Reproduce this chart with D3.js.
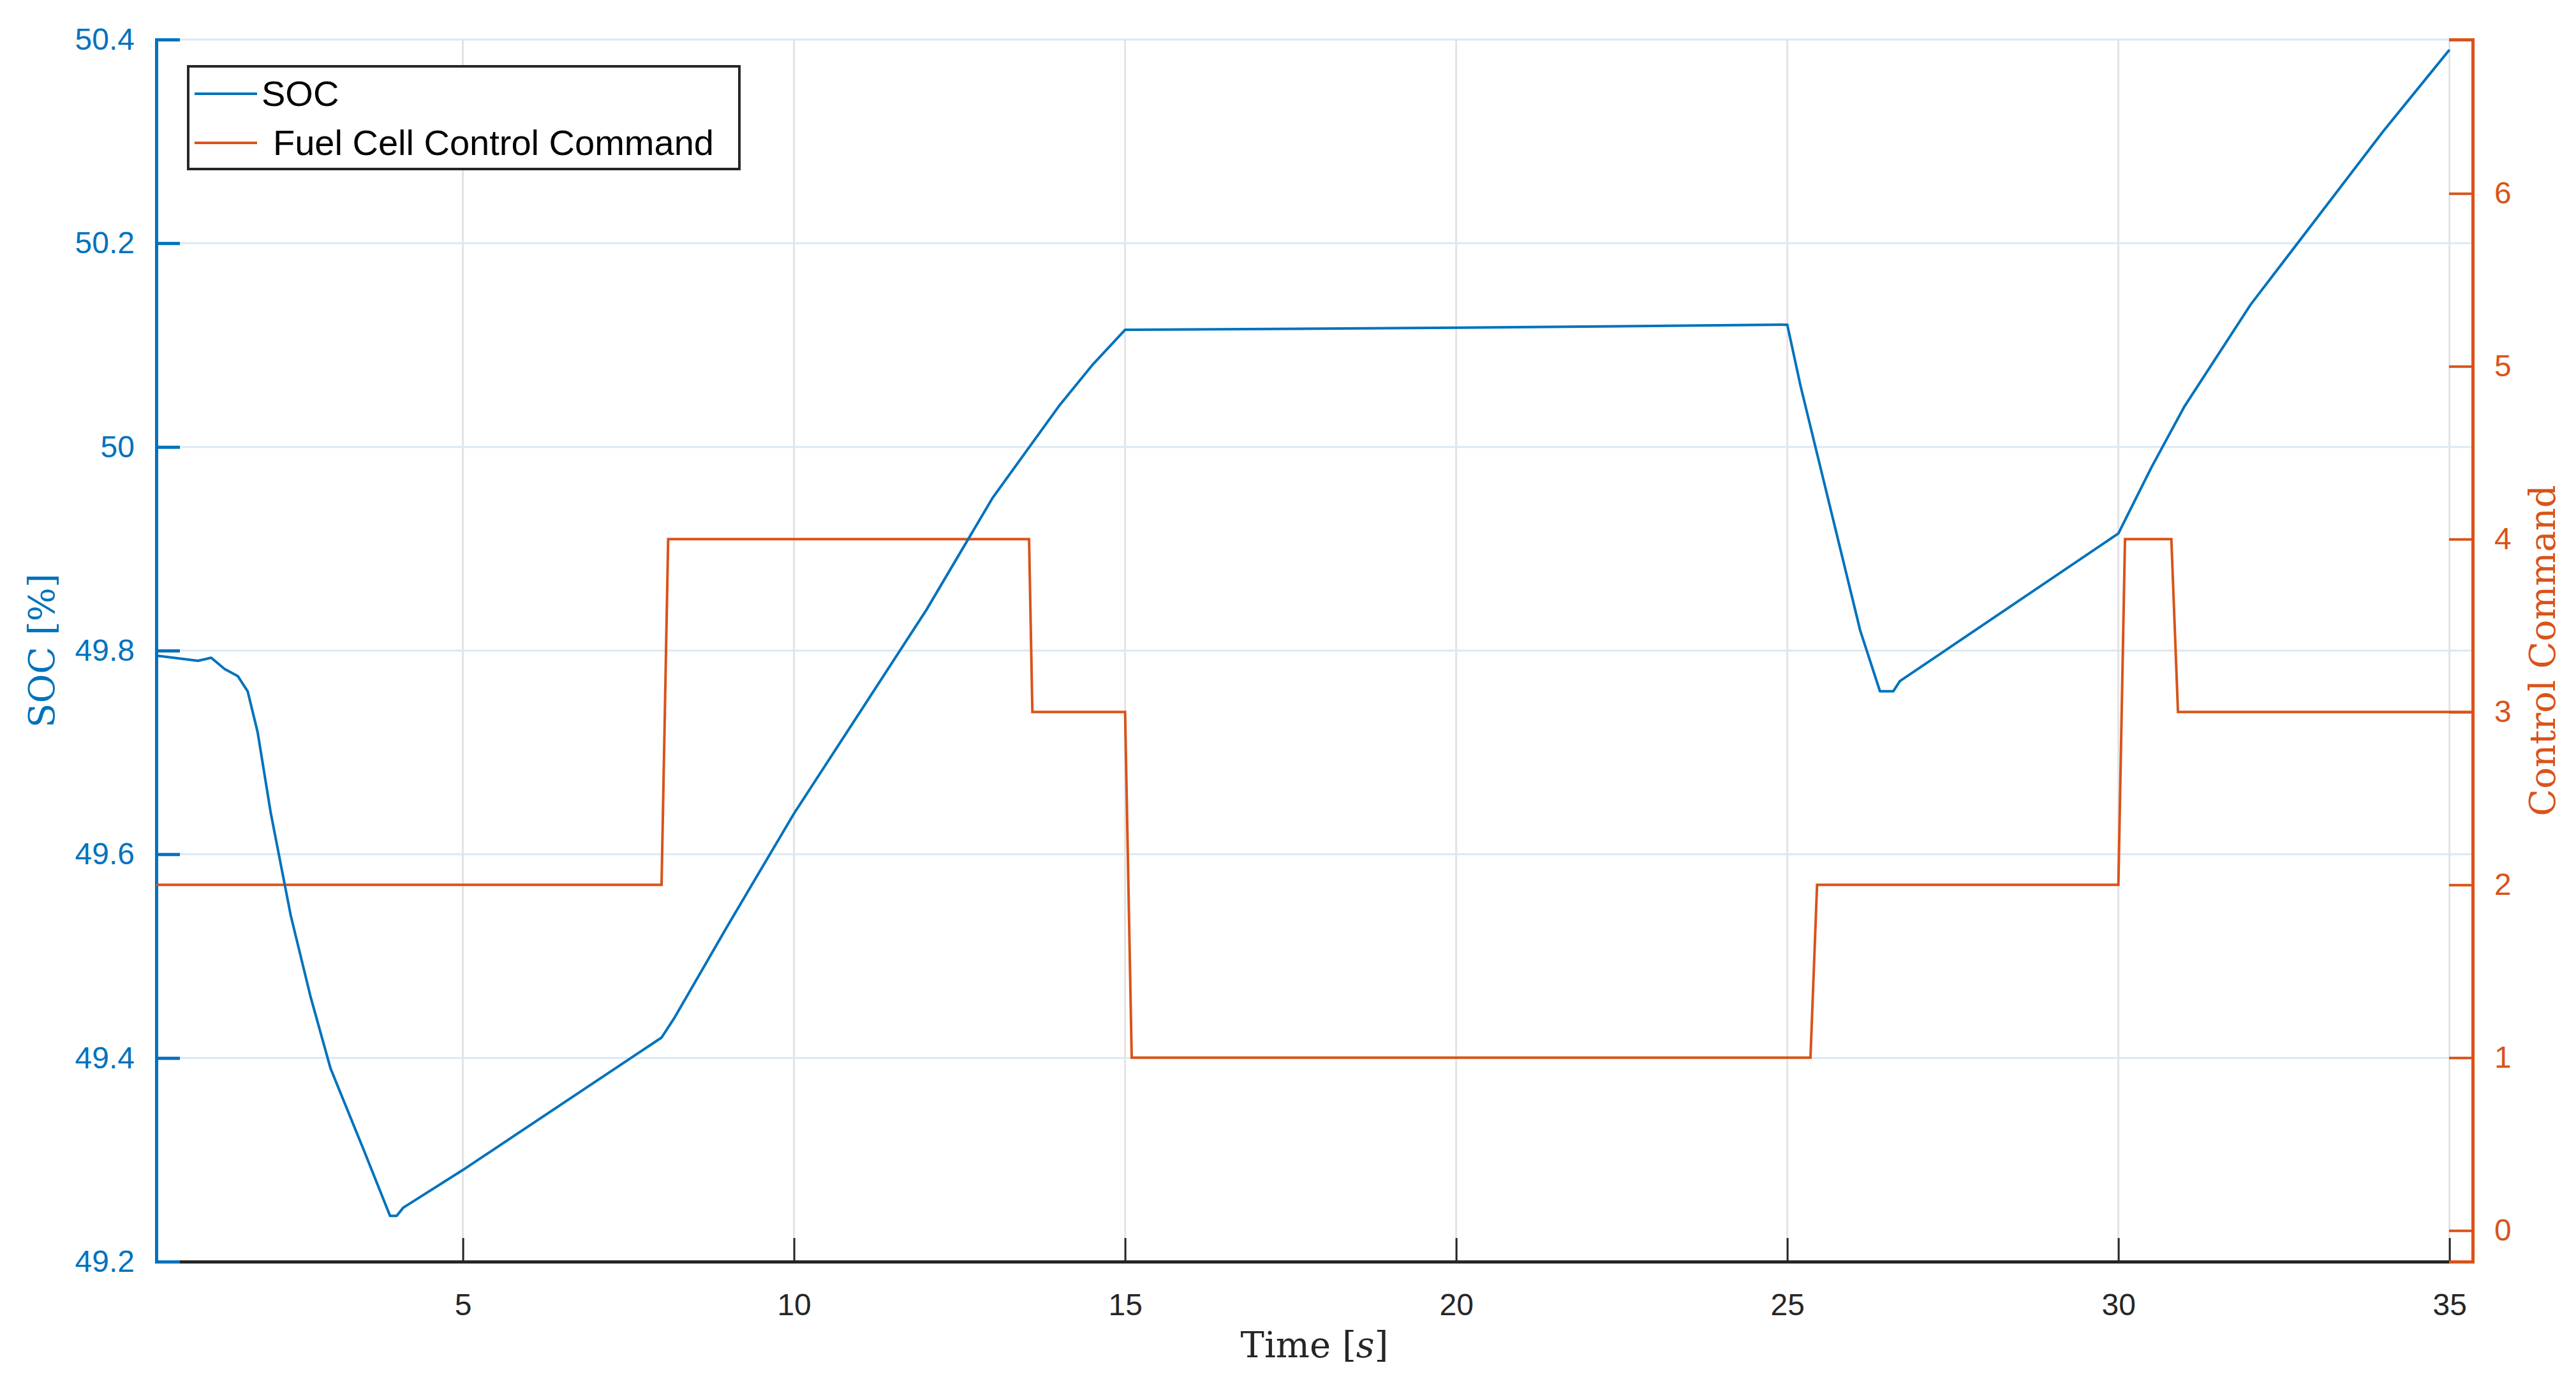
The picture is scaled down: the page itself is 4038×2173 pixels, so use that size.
<!DOCTYPE html><html><head><meta charset="utf-8"><script src="https://cdn.jsdelivr.net/npm/d3@7"></script>
<style>body{margin:0;background:#fff}</style></head><body><svg id="c" width="4038" height="2173"></svg><script>
const socTime=[0.37,1.0,1.2,1.4,1.6,1.75,1.9,2.1,2.4,2.7,3.0,3.5,3.9,4.0,4.1,5,8,8.2,9,10,11,12,13,13.5,14,14.5,15,20,25,25.2,25.5,25.8,26.1,26.4,26.6,26.7,30,30.5,31,32,33,34,35];
const socVals=[49.795,49.79,49.793,49.782,49.775,49.76,49.72,49.64,49.54,49.46,49.39,49.31,49.245,49.245,49.253,49.29,49.42,49.44,49.53,49.64,49.74,49.84,49.95,49.995,50.04,50.08,50.115,50.117,50.12,50.06,49.98,49.9,49.82,49.76,49.76,49.77,49.915,49.98,50.04,50.14,50.225,50.31,50.39];
const cmdTime=[0.37,8.0,8.1,13.55,13.6,15.0,15.1,25.35,25.45,30.0,30.1,30.8,30.9,35.35];
const cmdVals=[2,2,4,4,3,3,1,1,2,2,4,4,3,3];
const xTicks=[5,10,15,20,25,30,35];
const yTicks=[49.2,49.4,49.6,49.8,50,50.2,50.4];
const y2Ticks=[0,1,2,3,4,5,6];
const L=245,R=3876,T=62,B=1978,blue="#0072BD",orng="#D95319",dark="#262626";
const svg=d3.select("#c");
const x=d3.scaleLinear().domain([0.37,35.35]).range([L,R]);
const y=d3.scaleLinear().domain([49.2,50.4]).range([B,T]);
const y2=d3.scaleLinear().domain([-0.18,6.89]).range([B,T]);
const g=svg.append("g");
g.selectAll(".vg").data(xTicks).enter().append("line").attr("x1",d=>x(d)).attr("x2",d=>x(d)).attr("y1",T).attr("y2",B).attr("stroke","#e3e3e3").attr("stroke-width",3);
g.selectAll(".hg").data(yTicks).enter().append("line").attr("x1",L).attr("x2",R).attr("y1",d=>y(d)).attr("y2",d=>y(d)).attr("stroke","#dbe8f3").attr("stroke-width",3);
const font="'Liberation Sans',Arial,sans-serif", serif="'DejaVu Serif','Liberation Serif',serif";
const ax=svg.append("g").attr("transform",`translate(0,${B})`).call(d3.axisBottom(x).tickValues(xTicks).tickSize(-37).tickPadding(50).tickFormat(d3.format("d")));
ax.select(".domain").attr("stroke",dark).attr("stroke-width",5);
ax.selectAll("line").attr("stroke",dark).attr("stroke-width",3);
ax.selectAll("text").attr("fill",dark).attr("font-family",font).attr("font-size",48);
const ay=svg.append("g").attr("transform",`translate(${L},0)`).call(d3.axisLeft(y).tickValues(yTicks).tickSize(-37).tickPadding(34).tickFormat(d=>String(+d.toFixed(1))));
ay.select(".domain").attr("stroke",blue).attr("stroke-width",5);
ay.selectAll("line").attr("stroke",blue).attr("stroke-width",5);
ay.selectAll("text").attr("fill",blue).attr("font-family",font).attr("font-size",48);
const ay2=svg.append("g").attr("transform",`translate(${R},0)`).call(d3.axisRight(y2).tickValues(y2Ticks).tickSize(-37).tickPadding(34).tickFormat(d3.format("d")));
ay2.select(".domain").attr("stroke",orng).attr("stroke-width",5);
ay2.selectAll("line").attr("stroke",orng).attr("stroke-width",4);
ay2.selectAll("text").attr("fill",orng).attr("font-family",font).attr("font-size",48);
svg.append("path").datum(cmdTime.map((t,i)=>[t,cmdVals[i]])).attr("d",d3.line().x(d=>x(d[0])).y(d=>y2(d[1]))).attr("fill","none").attr("stroke",orng).attr("stroke-width",4);
svg.append("path").datum(socTime.map((t,i)=>[t,socVals[i]])).attr("d",d3.line().x(d=>x(d[0])).y(d=>y(d[1]))).attr("fill","none").attr("stroke",blue).attr("stroke-width",4).attr("stroke-linejoin","round");
svg.append("text").attr("x",(L+R)/2).attr("y",2128).attr("text-anchor","middle").attr("font-family",serif).attr("font-size",56).attr("fill",dark).html("Time [<tspan font-style='italic'>s</tspan>]");
svg.append("text").attr("transform",`translate(85,${(T+B)/2}) rotate(-90)`).attr("text-anchor","middle").attr("font-family",serif).attr("font-size",56).attr("fill",blue).text("SOC [%]");
svg.append("text").attr("transform",`translate(4005,${(T+B)/2}) rotate(-90)`).attr("text-anchor","middle").attr("font-family",serif).attr("font-size",56).attr("fill",orng).text("Control Command");
const lg=svg.append("g");
lg.append("rect").attr("x",295).attr("y",104).attr("width",864).attr("height",161).attr("fill","#fff").attr("stroke",dark).attr("stroke-width",4);
[["SOC",blue,147,410],["Fuel Cell Control Command",orng,224,428]].forEach(([t,c,yy,tx])=>{
lg.append("line").attr("x1",305).attr("x2",403).attr("y1",yy).attr("y2",yy).attr("stroke",c).attr("stroke-width",4);
lg.append("text").attr("x",tx).attr("y",yy+19).attr("font-family",font).attr("font-size",56).attr("fill","#000").text(t);});
</script></body></html>
